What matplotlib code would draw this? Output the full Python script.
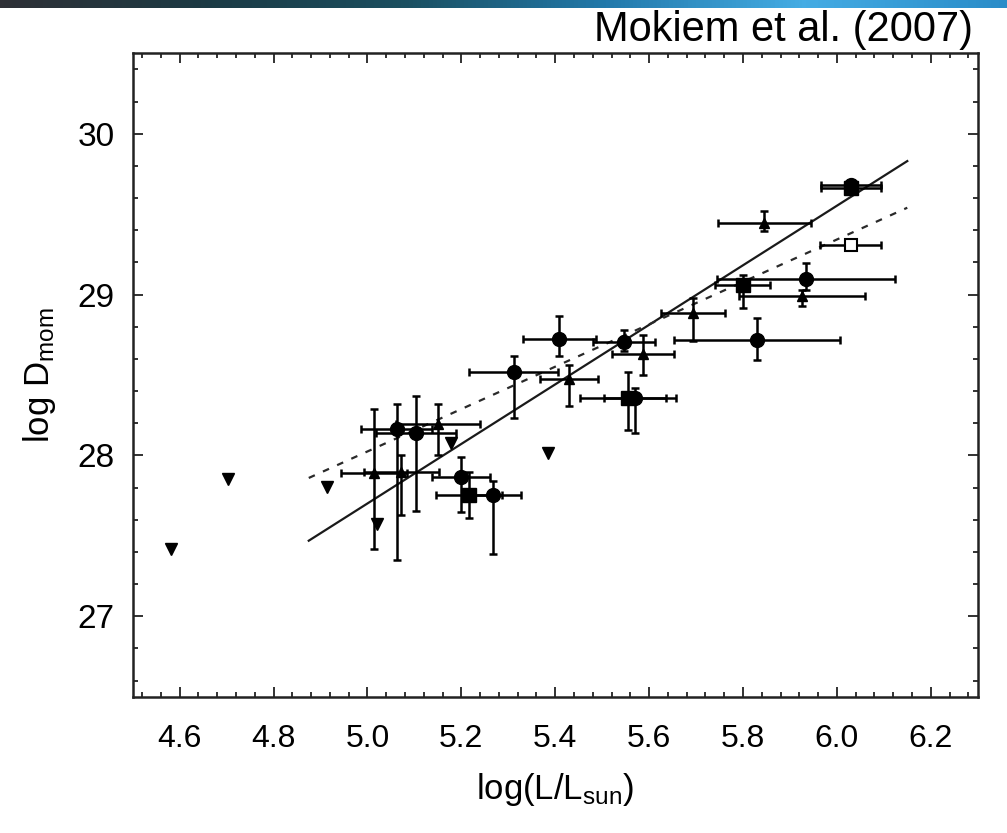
import matplotlib
matplotlib.use("Agg")
import matplotlib.pyplot as plt
import numpy as np
from matplotlib.colors import LinearSegmentedColormap
from matplotlib.ticker import MultipleLocator, FormatStrFormatter

plt.rcParams.update({
    "font.family": ["Liberation Sans", "DejaVu Sans"],
    "mathtext.fontset": "custom",
    "mathtext.rm": "Liberation Sans",
    "mathtext.it": "Liberation Sans:italic",
})

# filled circles: log L, log Dmom, xerr, yerr low, yerr high
circ_x = [5.062, 5.104, 5.200, 5.267, 5.312, 5.409, 5.547, 5.570, 5.830, 5.934, 6.030]
circ_y = [28.163, 28.142, 27.863, 27.756, 28.518, 28.725, 28.706, 28.360, 28.715, 29.099, 29.680]
circ_xe = [0.075, 0.085, 0.062, 0.060, 0.095, 0.078, 0.066, 0.067, 0.176, 0.190, 0.064]
circ_ylo = [0.81, 0.49, 0.213, 0.366, 0.283, 0.105, 0.056, 0.220, 0.124, 0.069, 0.03]
circ_yhi = [0.155, 0.23, 0.127, 0.084, 0.100, 0.145, 0.074, 0.060, 0.137, 0.097, 0.03]

# filled squares
sq_x = [5.216, 5.555, 5.799, 6.030]
sq_y = [27.756, 28.360, 29.062, 29.665]
sq_xe = [0.070, 0.103, 0.058, 0.064]
sq_ylo = [0.146, 0.200, 0.145, 0.03]
sq_yhi = [0.144, 0.160, 0.062, 0.03]

# open square
osq_x = [6.030]
osq_y = [29.310]
osq_xe = [0.065]
osq_ye = [0.03]

# small triangles
tri_x = [5.014, 5.072, 5.150, 5.430, 5.587, 5.693, 5.845, 5.925]
tri_y = [27.888, 27.894, 28.194, 28.473, 28.628, 28.886, 29.448, 28.990]
tri_xe = [0.070, 0.080, 0.090, 0.062, 0.067, 0.068, 0.099, 0.134]
tri_ylo = [0.47, 0.264, 0.194, 0.163, 0.128, 0.176, 0.050, 0.060]
tri_yhi = [0.40, 0.106, 0.126, 0.087, 0.122, 0.090, 0.070, 0.040]

# upper limits (down triangles)
lim_x = [4.581, 4.704, 4.913, 5.021, 5.177, 5.385]
lim_y = [27.420, 27.855, 27.805, 27.576, 28.080, 28.016]

# fitted relations (end points)
fit_x = [4.875, 6.150]
fit_solid_y = [27.47, 29.83]
fit_dash_y = [27.86, 29.54]

fig = plt.figure(figsize=(10.07, 8.33), dpi=100)

# slide background strip along the top edge
strip = fig.add_axes([0, 1 - 8 / 833, 1, 8 / 833])
cmap = LinearSegmentedColormap.from_list(
    "strip", ["#2e3036", "#1c3a44", "#1b4f60", "#2279aa", "#45ace4", "#2a8cc8"])
strip.imshow(np.linspace(0, 1, 256)[None, :], aspect="auto", cmap=cmap)
strip.axis("off")

ax = fig.add_axes([0.1318, 0.1636, 0.8391, 0.7724])

eb = dict(fmt="none", ecolor="black", elinewidth=1.8, capsize=3.0, capthick=1.8, zorder=2)
ax.errorbar(circ_x, circ_y, xerr=circ_xe, yerr=[circ_ylo, circ_yhi], **eb)
ax.errorbar(sq_x, sq_y, xerr=sq_xe, yerr=[sq_ylo, sq_yhi], **eb)
ax.errorbar(osq_x, osq_y, xerr=osq_xe, yerr=osq_ye, **eb)
ax.errorbar(tri_x, tri_y, xerr=tri_xe, yerr=[tri_ylo, tri_yhi], **eb)

ax.plot(circ_x, circ_y, "o", color="black", ms=10, zorder=3)
ax.plot(sq_x, sq_y, "s", color="black", ms=9.5, zorder=3)
ax.plot(osq_x, osq_y, "s", mfc="white", mec="black", mew=1.5, ms=9, zorder=3)
ax.plot(tri_x, tri_y, "^", color="black", ms=6.5, zorder=3)
ax.plot(lim_x, lim_y, "v", color="black", ms=9, zorder=3)

ax.plot(fit_x, fit_solid_y, "-", color="#1a1a1a", lw=1.6, zorder=1)
ax.plot(fit_x, fit_dash_y, color="#2a2a2a", lw=1.6, ls=(0, (3, 4)), zorder=1)

ax.set_xlim(4.5, 6.3)
ax.set_ylim(26.5, 30.5)
ax.xaxis.set_major_locator(MultipleLocator(0.2))
ax.xaxis.set_minor_locator(MultipleLocator(0.04))
ax.yaxis.set_major_locator(MultipleLocator(1))
ax.yaxis.set_minor_locator(MultipleLocator(0.2))
ax.xaxis.set_major_formatter(FormatStrFormatter("%.1f"))
ax.tick_params(which="both", direction="in", top=True, right=True, width=1.3, color="#222222")
ax.tick_params(axis="x", which="major", length=7.5, labelsize=23, pad=20)
ax.tick_params(axis="y", which="major", length=7.5, labelsize=24, pad=13)
ax.tick_params(which="minor", length=3.8)
for s in ax.spines.values():
    s.set_linewidth(1.8)
    s.set_color("#222222")

ax.set_xlabel(r"log(L/L$_{\mathrm{sun}}$)", fontsize=25, labelpad=12)
ax.set_ylabel(r"log D$_{\mathrm{mom}}$", fontsize=25, labelpad=14)

fig.text(0.966, 0.964, "Mokiem et al. (2007)", ha="right", va="center", fontsize=30)

fig.savefig("out.png", dpi=100)
